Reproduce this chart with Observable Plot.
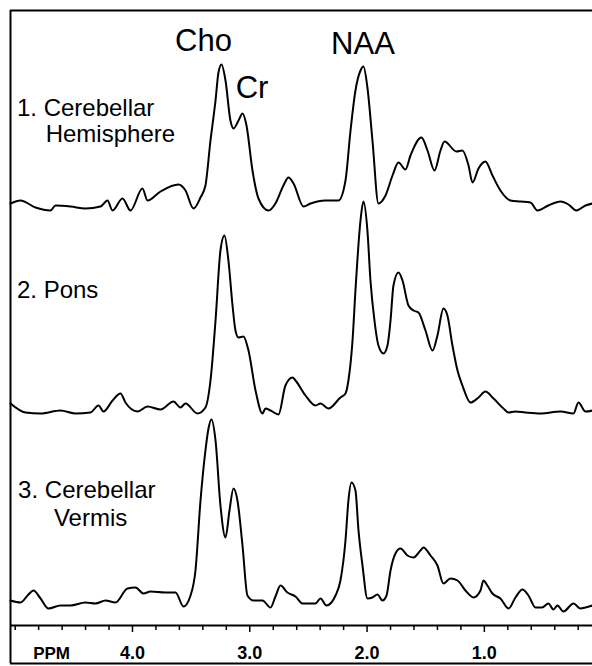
<!DOCTYPE html>
<html>
<head>
<meta charset="utf-8">
<script src="https://cdn.jsdelivr.net/npm/d3@7"></script>
<script src="https://cdn.jsdelivr.net/npm/@observablehq/plot@0.6"></script>
<style>
  html, body { margin: 0; padding: 0; background: #fff; }
  #chart svg { display: block; }
</style>
</head>
<body>
<div id="chart"></div>
<script>
// Spectrum 1: Cerebellar Hemisphere
const hemiPpm = [5.04,4.955,4.827,4.699,4.656,4.528,4.401,4.273,4.213,4.170,4.085,4.017,3.915,3.872,3.761,3.608,3.548,3.480,3.420,3.378,3.335,3.292,3.267,3.241,3.207,3.165,3.139,3.096,3.062,3.028,2.977,2.926,2.840,2.781,2.713,2.670,2.627,2.542,2.482,2.355,2.244,2.184,2.141,2.099,2.056,2.031,1.997,1.954,1.903,1.843,1.783,1.732,1.673,1.630,1.536,1.485,1.425,1.374,1.340,1.238,1.187,1.135,1.101,1.050,0.991,0.931,0.863,0.777,0.692,0.607,0.547,0.454,0.351,0.283,0.215,0.138,0.078];
const hemiSignal = [2,5,-2,-5,0,-1,-3,-1,5,-5,7,-5,17,5,14,21,15,-3,8,20,65,105,133,141,125,85,77,85,92,80,35,7,-5,2,20,28,22,-1,2,5,5,25,75,115,135,139,118,65,2,10,30,43,36,50,68,55,35,55,64,54,55,40,23,37,44,30,15,5,4,3,-5,0,4,1,-5,0,2];

// Spectrum 2: Pons
const ponsPpm = [5.04,4.912,4.784,4.614,4.486,4.358,4.290,4.247,4.170,4.102,4.060,3.957,3.872,3.761,3.650,3.591,3.548,3.446,3.378,3.335,3.292,3.250,3.216,3.182,3.147,3.122,3.096,3.054,3.011,2.951,2.892,2.866,2.823,2.755,2.696,2.636,2.610,2.525,2.440,2.397,2.329,2.227,2.184,2.159,2.124,2.099,2.056,2.031,1.997,1.971,1.937,1.903,1.860,1.826,1.800,1.775,1.732,1.698,1.647,1.604,1.562,1.502,1.442,1.400,1.349,1.315,1.272,1.229,1.187,1.118,1.050,0.991,0.922,0.837,0.794,0.735,0.650,0.522,0.351,0.240,0.198,0.138,0.078];
const ponsSignal = [7,-2,-3,0,-3,-2,5,-1,10,17,8,-1,4,1,9,3,7,-3,3,30,90,160,175,150,105,80,73,74,60,20,-3,2,0,-4,25,33,30,15,5,7,2,13,17,30,70,120,190,209,180,130,90,65,57,65,90,125,138,130,105,100,98,80,60,75,102,95,65,40,25,8,13,19,12,2,-2,-1,-2,-3,-1,-3,8,-1,0];

// Spectrum 3: Cerebellar Vermis
const vermisPpm = [5.04,4.955,4.887,4.844,4.784,4.716,4.614,4.528,4.401,4.315,4.230,4.145,4.043,3.974,3.906,3.846,3.719,3.633,3.565,3.505,3.463,3.420,3.378,3.352,3.327,3.292,3.250,3.207,3.173,3.139,3.105,3.062,3.020,2.968,2.892,2.823,2.781,2.738,2.679,2.610,2.551,2.440,2.397,2.346,2.269,2.227,2.184,2.159,2.133,2.099,2.073,2.039,1.997,1.954,1.911,1.869,1.834,1.800,1.758,1.715,1.656,1.604,1.545,1.519,1.459,1.400,1.349,1.289,1.229,1.161,1.093,1.033,1.008,0.974,0.931,0.863,0.794,0.735,0.675,0.624,0.564,0.508,0.454,0.411,0.377,0.326,0.240,0.181,0.138,0.078];
const vermisSignal = [0,-2,6,10,2,-8,-5,-5,-2,-3,0,-2,12,13,7,9,8,8,-6,5,30,100,150,172,181,160,95,63,90,112,100,55,5,0,0,-7,4,15,8,4,-3,-3,2,-5,5,20,60,100,118,110,70,35,2,3,6,0,5,30,47,52,45,43,50,53,45,35,17,22,20,10,3,10,20,15,7,2,-8,3,11,5,-7,-7,-3,-9,-5,-11,-3,-8,-7,-5];

// Stacking: vertical offset of each spectrum's baseline
const seriesNames = ["1. Cerebellar Hemisphere", "2. Pons", "3. Cerebellar Vermis"];
const seriesOffsets = [420, 215, 25];

// Axis ticks (ppm)
const minorTicks = [5.0,4.8,4.6,4.4,4.2,3.8,3.6,3.4,3.2,2.8,2.6,2.4,2.2,1.8,1.6,1.4,1.2,0.8,0.6,0.4,0.2];
const majorTicks = [4.0, 3.0, 2.0, 1.0];
const axisTitle = "PPM";

// Peak labels
const peakNames = ["Cho", "Cr", "NAA"];
const peakPpm = [3.395, 2.981, 2.035];
const peakLevel = [575, 528, 572];

// Spectrum labels (line text, ppm of left edge, level of baseline)
const sampleLines = ["1. Cerebellar", "Hemisphere", "2. Pons", "3. Cerebellar", "Vermis"];
const sampleLinePpm = [4.985, 4.74, 4.985, 4.975, 4.67];
const sampleLineLevel = [510, 484, 328, 128, 100];

const xDomain = [5.04, 0.078];
const yDomain = [-38, 615];

const spectra = [[hemiPpm, hemiSignal], [ponsPpm, ponsSignal], [vermisPpm, vermisSignal]];
const rows = spectra.flatMap(([p, s], i) =>
  p.map((ppm, j) => ({series: seriesNames[i], ppm, level: seriesOffsets[i] + s[j]}))
);

const font = "'Liberation Sans', Arial, Helvetica, sans-serif";

const chart = Plot.plot({
  width: 592,
  height: 666,
  marginLeft: 10,
  marginRight: 0,
  marginTop: 10,
  marginBottom: 3,
  style: {background: "#fff", fontFamily: font, color: "#000"},
  x: {domain: xDomain, axis: null},
  y: {domain: yDomain, axis: null},
  marks: [
    // frame (top, bottom, left)
    Plot.ruleY([yDomain[1], yDomain[0]], {stroke: "#000", strokeWidth: 2}),
    Plot.ruleX([xDomain[0]], {y1: yDomain[0], y2: yDomain[1], stroke: "#000", strokeWidth: 2}),
    // ppm axis line and ticks
    Plot.ruleY([0], {stroke: "#000", strokeWidth: 2}),
    Plot.ruleX(minorTicks, {x: d => d, y1: 0, y2: -5, stroke: "#000", strokeWidth: 1.5}),
    Plot.ruleX(majorTicks, {x: d => d, y1: 0, y2: -7, stroke: "#000", strokeWidth: 1.5}),
    Plot.text(majorTicks, {x: d => d, y: -33, text: d => d.toFixed(1), lineAnchor: "bottom", textAnchor: "middle", fontSize: 18, fontWeight: "bold", fill: "#000", fontFamily: font}),
    Plot.text([axisTitle], {x: 4.69, y: -33, text: d => d, lineAnchor: "bottom", textAnchor: "middle", fontSize: 17, fontWeight: "bold", fill: "#000", fontFamily: font}),
    // spectra
    Plot.line(rows, {x: "ppm", y: "level", z: "series", stroke: "#000", strokeWidth: 2, curve: "monotone-x"}),
    // peak labels
    Plot.text(peakNames, {x: (d, i) => peakPpm[i], y: (d, i) => peakLevel[i], text: d => d, lineAnchor: "bottom", textAnchor: "middle", fontSize: 31, fill: "#000", fontFamily: font}),
    // spectrum labels
    Plot.text(sampleLines, {x: (d, i) => sampleLinePpm[i], y: (d, i) => sampleLineLevel[i], text: d => d, lineAnchor: "bottom", textAnchor: "start", fontSize: 24, fill: "#000", fontFamily: font})
  ]
});

document.getElementById("chart").appendChild(chart);
</script>
</body>
</html>
